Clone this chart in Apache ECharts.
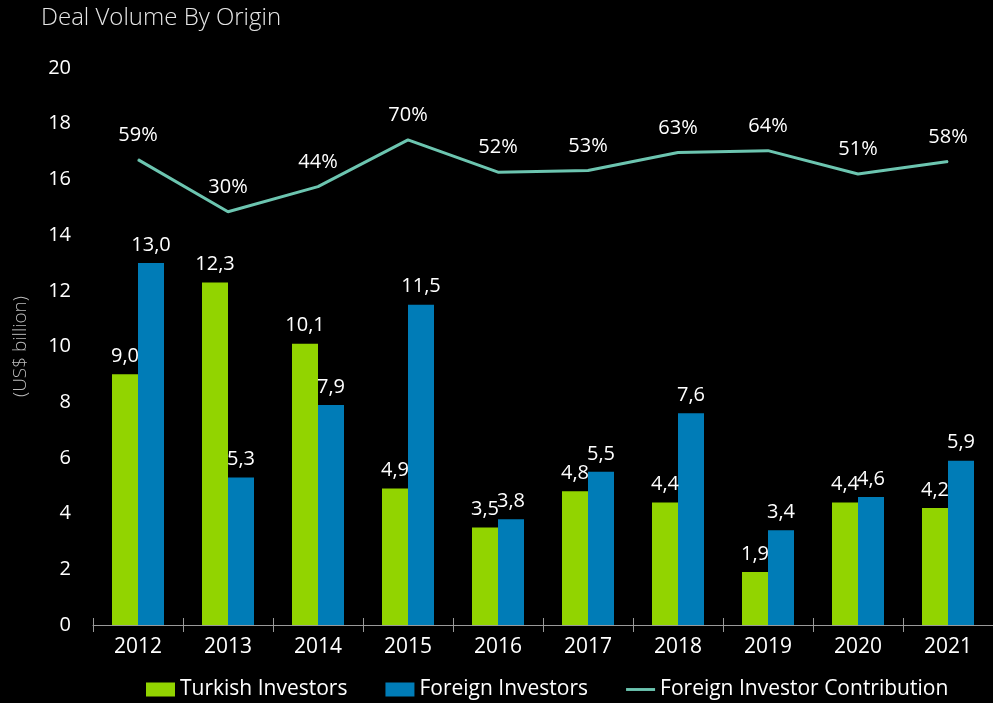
<!DOCTYPE html>
<html lang="en">
<head>
    <meta charset="UTF-8">
    <title>Deal Volume By Origin</title>
    <script src="https://cdn.jsdelivr.net/npm/echarts@6/dist/echarts.min.js"></script>
    <style>
        html, body { margin: 0; padding: 0; background: #000; }
        #chart { width: 993px; height: 703px; }
    </style>
</head>
<body>
    <div id="chart"></div>
    <script>
        const years = ['2012', '2013', '2014', '2015', '2016', '2017', '2018', '2019', '2020', '2021'];
        const turkish = [9.0, 12.3, 10.1, 4.9, 3.5, 4.8, 4.4, 1.9, 4.4, 4.2];
        const foreign = [13.0, 5.3, 7.9, 11.5, 3.8, 5.5, 7.6, 3.4, 4.6, 5.9];
        const contribution = [59, 30, 44, 70, 52, 53, 63, 64, 51, 58];

        const fontFam = '"Open Sans", "Noto Sans", sans-serif';
        const coma = v => v.toFixed(1).replace('.', ',');

        const chart = echarts.init(document.getElementById('chart'));

        const option = {
            backgroundColor: '#000',
            textStyle: { fontFamily: fontFam },
            title: {
                text: 'Deal Volume By Origin',
                left: 36, top: 1,
                textStyle: { color: '#e6e6e6', fontSize: 24, fontWeight: 300, fontFamily: fontFam }
            },
            legend: {
                left: 146, top: 679, padding: 0,
                itemWidth: 29, itemHeight: 14, itemGap: 38,
                textStyle: { color: '#fff', fontSize: 21, fontFamily: fontFam },
                data: [
                    { name: 'Turkish Investors', icon: 'rect' },
                    { name: 'Foreign Investors', icon: 'rect' },
                    { name: 'Foreign Investor Contribution', icon: 'path://M0,0 L30,0 L30,3 L0,3 Z' }
                ]
            },
            grid: { left: 93, right: 0, top: 68, bottom: 78 },
            xAxis: [
                {
                    type: 'category',
                    data: years,
                    axisLine: { onZero: false, lineStyle: { color: '#999', width: 1 } },
                    axisTick: { show: true, length: 7, lineStyle: { color: '#999' } },
                    axisLabel: { color: '#fff', fontSize: 21, margin: 12 }
                },
                {
                    // second pass of the ticks, pointing up into the plot
                    type: 'category',
                    data: years,
                    position: 'bottom',
                    axisLine: { show: false, onZero: false },
                    axisTick: { show: true, inside: true, length: 7, lineStyle: { color: '#999' } },
                    axisLabel: { show: false }
                }
            ],
            yAxis: [
                {
                    type: 'value', min: 0, max: 20, interval: 2,
                    name: '(US$ billion)',
                    nameLocation: 'middle', nameGap: 63, nameRotate: 90,
                    nameTextStyle: { color: '#bbb', fontSize: 19, fontWeight: 300 },
                    splitLine: { show: false },
                    axisLine: { show: false },
                    axisTick: { show: false },
                    axisLabel: { color: '#fff', fontSize: 20, margin: 22 }
                },
                {
                    type: 'value', min: -200, max: 110,
                    show: false,
                    splitLine: { show: false }
                }
            ],
            series: [
                {
                    name: 'Turkish Investors',
                    type: 'bar',
                    data: turkish,
                    barWidth: 26,
                    barGap: '0%',
                    itemStyle: { color: '#92D400' },
                    label: {
                        show: true, position: 'top', distance: 8,
                        color: '#fff', fontSize: 20,
                        formatter: p => coma(p.value)
                    }
                },
                {
                    name: 'Foreign Investors',
                    type: 'bar',
                    data: foreign,
                    barWidth: 26,
                    barGap: '0%',
                    itemStyle: { color: '#007CB7' },
                    label: {
                        show: true, position: 'top', distance: 8,
                        color: '#fff', fontSize: 20,
                        formatter: p => coma(p.value)
                    }
                },
                {
                    name: 'Foreign Investor Contribution',
                    type: 'line',
                    yAxisIndex: 1,
                    data: contribution,
                    symbol: 'circle',
                    symbolSize: 1,
                    lineStyle: { color: '#6CC5B0', width: 3 },
                    itemStyle: { color: '#6CC5B0' },
                    label: {
                        show: true, position: 'top', distance: 14,
                        color: '#fff', fontSize: 20,
                        formatter: p => p.value + '%'
                    }
                }
            ]
        };

        chart.setOption(option);
    </script>
</body>
</html>
